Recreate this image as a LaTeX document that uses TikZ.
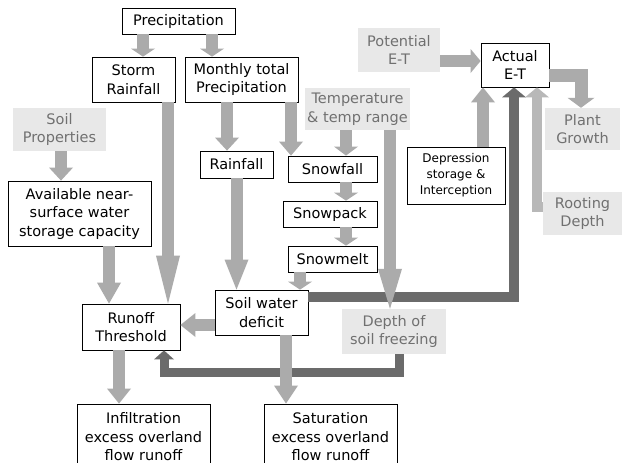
\documentclass[tikz,border=0pt]{standalone}
\usepackage{fontspec}
\setmainfont{DejaVu Sans}
\usetikzlibrary{arrows.meta}
\definecolor{lg}{HTML}{ABABAB}
\definecolor{rg}{HTML}{B8B8B8}
\definecolor{dg}{HTML}{6B6B6B}
\definecolor{boxg}{HTML}{E8E8E8}
\definecolor{txtg}{HTML}{707070}
\tikzset{
  bx/.style={draw=black, line width=0.8pt, fill=white, inner sep=0pt, align=center,
    font=\fontsize{14.5}{18.5}\selectfont},
  gl/.style={fill=boxg, text=txtg, inner sep=0pt, align=center,
    font=\fontsize{14.5}{18.5}\selectfont},
  fa/.style={draw=lg, line width=12pt, line join=miter,
    -{Triangle[width=24pt,length=#1,line width=0pt]}},
  fa/.default=10pt,
  da/.style={draw=dg, line width=10pt, line join=miter,
    -{Triangle[width=24pt,length=#1,line width=0pt]}},
  da/.default=10pt,
}
\begin{document}
\begin{tikzpicture}[x=1pt,y=-1pt]
\useasboundingbox (0,0) rectangle (622,463);
\clip (0,0) rectangle (622,463);
\fill[white] (0,0) rectangle (622,463);

% nodes
\node[bx, minimum width=113pt, minimum height=26pt] (prec) at (178.5,21) {Precipitation};
\node[bx, minimum width=83pt, minimum height=45pt] (storm) at (133.5,79.5) {Storm\\Rainfall};
\node[bx, minimum width=113pt, minimum height=45pt] (monthly) at (241.5,79.5) {Monthly total\\Precipitation};
\node[gl, minimum width=82pt, minimum height=44pt] (potet) at (399,50) {Potential\\E-T};
\node[bx, minimum width=68pt, minimum height=44pt] (actual) at (515,65) {Actual\\E-T};
\node[gl, minimum width=105pt, minimum height=42pt] (temp) at (357.5,109) {Temperature\\\& temp range};
\node[gl, minimum width=93pt, minimum height=43pt] (soilprop) at (59.5,129.5) {Soil\\Properties};
\node[gl, minimum width=75pt, minimum height=42pt] (plant) at (582.5,129) {Plant\\Growth};
\node[bx, minimum width=73pt, minimum height=27pt] (rain) at (236.5,164.5) {Rainfall};
\node[bx, minimum width=89pt, minimum height=26pt] (snowfall) at (332.5,169) {Snowfall};
\node[bx, minimum width=94pt, minimum height=26pt] (snowpack) at (330,214) {Snowpack};
\node[bx, minimum width=89pt, minimum height=26pt] (snowmelt) at (332.5,259) {Snowmelt};
\node[bx, minimum width=98pt, minimum height=57pt, font=\fontsize{12}{16}\selectfont] (depr) at (456,175.5) {Depression\\storage \&\\Interception};
\node[gl, minimum width=79pt, minimum height=43pt] (rooting) at (582.5,213.5) {Rooting\\Depth};
\node[bx, minimum width=143pt, minimum height=65pt] (avail) at (79.5,213.5) {Available near-\\surface water\\storage capacity};
\node[bx, minimum width=98pt, minimum height=46pt] (runoff) at (131,327) {Runoff\\Threshold};
\node[bx, minimum width=93pt, minimum height=45pt] (soilw) at (261.5,312.5) {Soil water\\deficit};
\node[gl, minimum width=104pt, minimum height=45pt] (depth) at (394,331.5) {Depth of\\soil freezing};
\node[bx, minimum width=133pt, minimum height=66pt] (infil) at (143.5,437) {Infiltration\\excess overland\\flow runoff};
\node[bx, minimum width=133pt, minimum height=66pt] (satur) at (330.5,437) {Saturation\\excess overland\\flow runoff};

% dark connectors
\draw[da=10pt] ([yshift=15.5pt]soilw.east) -| ([xshift=-1pt]actual.south);
\draw[da=9pt, line width=9pt, -{Triangle[width=20pt,length=9pt,line width=0pt]}] ([xshift=5pt]depth.south) -- ++(0,18) -| ([xshift=33pt]runoff.south);

% light connectors
\draw[fa=8pt] ([xshift=-35.5pt]prec.south) -- ([xshift=9.5pt]storm.north);
\draw[fa=8pt] ([xshift=33.5pt]prec.south) -- ([xshift=-29.5pt]monthly.north);
\draw[fa=48pt] ([xshift=34.5pt]storm.south) -- ([xshift=37pt]runoff.north);
\draw[fa=13pt] ([xshift=-14.5pt]monthly.south) -- ([xshift=-9.5pt]rain.north);
\draw[fa=14pt] ([xshift=49.5pt]monthly.south) -- ([xshift=-41.5pt]snowfall.north);
\draw[fa=9pt] ([xshift=-11.5pt]temp.south) -- ([xshift=13.5pt]snowfall.north);
\draw[fa=8pt] ([xshift=13.5pt]snowfall.south) -- ([xshift=16pt]snowpack.north);
\draw[fa=8pt] ([xshift=16pt]snowpack.south) -- ([xshift=13.5pt]snowmelt.north);
\draw[fa=8pt] ([xshift=-32.5pt]snowmelt.south) -- ([xshift=38.5pt]soilw.north);
\draw[fa=30pt] (rain.south) -- ([xshift=-25pt]soilw.north);
\draw[fa=40pt] ([xshift=32.5pt]temp.south) -- ([xshift=-4pt]depth.north);
\draw[fa=21pt] ([xshift=29.5pt]avail.south) -- ([xshift=-22pt]runoff.north);
\draw[fa=13pt] ([xshift=1.5pt]soilprop.south) -- ([xshift=-18.5pt]avail.north);
\draw[fa=15pt] ([yshift=-12.5pt]soilw.west) -- ([yshift=2pt]runoff.east);
\draw[fa=18pt] ([xshift=24.5pt]soilw.south) -- ([xshift=-44.5pt]satur.north);
\draw[fa=15pt] ([xshift=-12pt]runoff.south) -- ([xshift=-24.5pt]infil.north);
\draw[fa=15pt] ([xshift=27pt]depr.north) -- ([xshift=-32pt]actual.south);
\draw[fa=10pt, draw=rg, line width=10pt] ([yshift=6.5pt]rooting.west) -| ([xshift=22pt]actual.south);
\draw[fa=10pt, line width=13pt, -{Triangle[width=27pt,length=10pt,line width=0pt]}] ([yshift=-10pt]actual.east) -| ([xshift=-1.5pt]plant.north);
\draw[fa=10pt] ([yshift=-11pt]potet.east) -- ([yshift=4pt]actual.west);
\end{tikzpicture}
\end{document}
